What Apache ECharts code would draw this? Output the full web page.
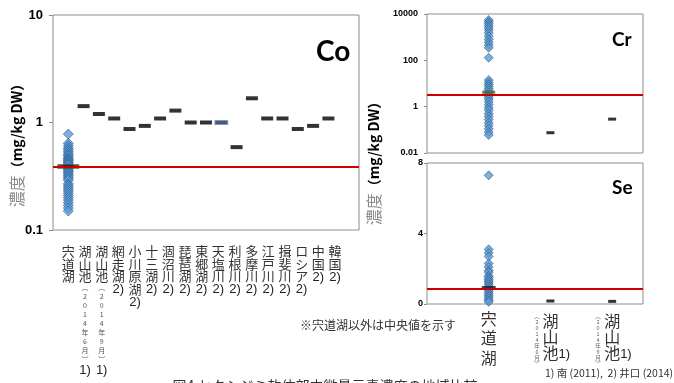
<!DOCTYPE html>
<html>
<head>
<meta charset="utf-8">
<style>
html, body { margin: 0; padding: 0; background: #fff; }
#chart { width: 674px; height: 383px; }
</style>
<script src="https://cdn.jsdelivr.net/npm/echarts@6.0.0/dist/echarts.min.js"></script>
</head>
<body>
<div id="chart"></div>
<script>
// ---- Co (left panel) ----
const coNames = ['宍道湖', '湖山池', '湖山池', '網走湖', '小川原湖', '十三湖', '涸沼川', '琵琶湖', '東郷湖',
  '天塩川', '利根川', '多摩川', '江戸川', '揖斐川', 'ロシア', '中国', '韓国'];
const coDates = ['', '2014年6月', '2014年9月', '', '', '', '', '', '', '', '', '', '', '', '', '', ''];
const coNotes = ['', '1)', '1)', '2)', '2)', '2)', '2)', '2)', '2)', '2)', '2)', '2)', '2)', '2)', '2)', '2)', '2)'];
const coTicks = ['0.1', '1', '10'];
// 宍道湖 individual samples
const coShinji = [0.78, 0.64, 0.61, 0.58, 0.56, 0.54, 0.52, 0.5, 0.49, 0.47, 0.46, 0.45, 0.44, 0.43, 0.42,
  0.41, 0.4, 0.38, 0.37, 0.36, 0.35, 0.34, 0.33, 0.32, 0.31, 0.3, 0.29, 0.27, 0.26, 0.25, 0.24, 0.23,
  0.22, 0.21, 0.2, 0.19, 0.18, 0.17, 0.16, 0.15];
const coShinjiMedian = 0.39;
// medians of the other sites
const coMedians = [1.42, 1.2, 1.09, 0.87, 0.93, 1.09, 1.29, 1.0, 1.0, 1.0, 0.59, 1.68, 1.09, 1.09, 0.87, 0.93, 1.09];
const coGuide = 0.39;

// ---- Cr / Se (right panels) ----
const rsNames = ['宍道湖', '湖山池', '湖山池'];
const rsDates = ['', '2014年6月', '2014年9月'];
const crTicks = ['0.01', '1', '100', '10000'];
const crShinji = [5500, 4600, 3800, 3100, 2500, 2000, 1500, 1100, 800, 600, 450, 350, 130,
  14, 11, 9, 7.5, 6, 5, 4, 3.2, 2.6, 2.1, 1.6, 1.2, 0.9, 0.7, 0.5, 0.38, 0.28, 0.2, 0.15, 0.11, 0.08, 0.06];
const crShinjiMedian = 4.2;
const crOthers = [0.075, 0.29];
const crGuide = 3.4;

const seTicks = ['0', '4', '8'];
const seShinji = [7.3, 3.1, 2.9, 2.7, 2.3, 2.1, 1.9, 1.8, 1.6, 1.5, 1.4, 1.3, 1.2, 1.1, 1.0, 0.9, 0.8,
  0.7, 0.6, 0.5, 0.4, 0.3, 0.2, 0.12];
const seShinjiMedian = 0.95;
const seOthers = [0.17, 0.15];
const seGuide = 0.89;

const JP = '"Noto Sans CJK JP", sans-serif';
const LAT = '"Liberation Sans", Arial, sans-serif';

const diamond = { color: '#5b9bd5', borderColor: '#1f4e79', borderWidth: 0.7 };
const border = '#8c8c8c';

function vert(str, tag) {
  return str.split('').map(c => tag ? `{${tag}|${c}}` : c).join('\n');
}

function guideSeries(xi, yi, v) {
  return {
    type: 'line', xAxisIndex: xi, yAxisIndex: yi, data: [], z: 2, silent: true,
    markLine: {
      symbol: 'none', silent: true, label: { show: false },
      lineStyle: { color: '#cc0000', width: 2, type: 'solid' },
      data: [{ yAxis: v }]
    }
  };
}

const chart = echarts.init(document.getElementById('chart'));

chart.setOption({
  animation: false,
  title: [
    { text: 'Co', left: 316, top: 38, padding: 0, textStyle: { fontFamily: 'Lato', fontWeight: 'bold', fontSize: 28, color: '#000' } },
    { text: 'Cr', left: 612, top: 30, padding: 0, textStyle: { fontFamily: 'Lato', fontWeight: 'bold', fontSize: 19, color: '#000' } },
    { text: 'Se', left: 612, top: 178, padding: 0, textStyle: { fontFamily: 'Lato', fontWeight: 'bold', fontSize: 19, color: '#000' } }
  ],
  grid: [
    { left: 53, top: 15, width: 306, height: 215, show: true, borderColor: border, borderWidth: 1 },
    { left: 427, top: 14, width: 216, height: 139, show: true, borderColor: border, borderWidth: 1 },
    { left: 427, top: 163, width: 216, height: 141, show: true, borderColor: border, borderWidth: 1 },
    { left: 60, top: 238, width: 283.3, height: 1 }
  ],
  xAxis: [
    { gridIndex: 0, type: 'value', min: 0, max: 20, show: false },
    { gridIndex: 1, type: 'value', min: 0, max: 3.5, show: false },
    {
      gridIndex: 2, type: 'value', min: 0, max: 3.5, interval: 1,
      axisLine: { show: false }, axisTick: { show: false }, splitLine: { show: false },
      axisLabel: {
        margin: 5, rotate: 0, showMinLabel: true, showMaxLabel: true,
        fontFamily: JP, fontSize: 16, lineHeight: 19.5, color: '#333',
        formatter: v => {
          const i = v - 1;
          if (!Number.isInteger(v) || i < 0 || i >= rsNames.length) return '';
          if (!rsDates[i]) return vert(rsNames[i]);
          const ch = rsNames[i].split('');
          return '{e| }\n{k|' + ch[0] + '}\n{k|' + ch[1] + '}\n{h|1)}{k|' + ch[2] + '}{m|1)}';
        },
        rich: {
          e: { fontSize: 1, lineHeight: 4 },
          k: { fontFamily: JP, fontSize: 16, lineHeight: 16, color: '#333' },
          h: { fontFamily: LAT, fontSize: 13, lineHeight: 12, color: 'rgba(0,0,0,0)', verticalAlign: 'bottom' },
          m: { fontFamily: LAT, fontSize: 13, lineHeight: 12, color: '#222', verticalAlign: 'bottom' }
        }
      }
    },
    {
      gridIndex: 3, type: 'category', data: coNames.map((n, i) => n + coDates[i]),
      axisLine: { show: false }, axisTick: { show: false },
      axisLabel: {
        interval: 0, rotate: 0, margin: 6,
        fontFamily: JP, fontSize: 13, lineHeight: 12.5, color: '#333',
        formatter: (v, i) => {
          let s = vert(coNames[i]);
          if (coDates[i]) s += '\n' + vert('︵' + coDates[i] + '︶', 's');
          if (coNotes[i]) s += '\n{n|' + coNotes[i] + '}';
          return s;
        },
        rich: {
          s: { fontFamily: JP, fontSize: 7, lineHeight: 9, color: '#555' },
          n: { fontFamily: LAT, fontSize: 13, lineHeight: 14, color: '#222' }
        }
      }
    }
  ],
  yAxis: [
    {
      gridIndex: 0, type: 'log', logBase: 10, min: 0.1, max: 10,
      axisLine: { show: false }, splitLine: { show: false }, minorTick: { show: false },
      axisTick: { show: true, length: 4, lineStyle: { color: border } },
      axisLabel: {
        margin: 10, fontFamily: LAT, fontWeight: 'bold', fontSize: 13, color: '#000',
        formatter: v => coTicks[Math.round(Math.log10(v)) + 1]
      }
    },
    {
      gridIndex: 1, type: 'log', logBase: 100, min: 0.01, max: 10000,
      axisLine: { show: false }, splitLine: { show: false },
      axisTick: { show: true, length: 3, lineStyle: { color: border } },
      axisLabel: {
        margin: 9, fontFamily: LAT, fontWeight: 'bold', fontSize: 9, color: '#000',
        formatter: v => crTicks[Math.round(Math.log10(v) / 2) + 1]
      }
    },
    {
      gridIndex: 2, type: 'value', min: 0, max: 8, interval: 4,
      axisLine: { show: false }, splitLine: { show: false },
      axisTick: { show: true, length: 3, lineStyle: { color: border } },
      axisLabel: {
        margin: 4, fontFamily: LAT, fontWeight: 'bold', fontSize: 9, color: '#000',
        formatter: v => seTicks[Math.round(v / 4)]
      }
    },
    { gridIndex: 3, type: 'value', show: false }
  ],
  series: [
    // Co
    guideSeries(0, 0, coGuide),
    {
      type: 'scatter', xAxisIndex: 0, yAxisIndex: 0, z: 3, symbol: 'diamond', symbolSize: 10,
      itemStyle: diamond, data: coShinji.map(v => [1, v])
    },
    {
      type: 'scatter', xAxisIndex: 0, yAxisIndex: 0, z: 4, symbol: 'rect', symbolSize: [20, 4],
      itemStyle: { color: '#1a1a1a', borderColor: '#4f6b2a', borderWidth: 1 },
      data: [[1, coShinjiMedian]]
    },
    {
      type: 'scatter', xAxisIndex: 0, yAxisIndex: 0, z: 4, symbol: 'rect', symbolSize: [12, 4],
      itemStyle: { color: '#000' },
      data: coMedians.map((v, i) => (i === 9
        ? { value: [i + 2, v], itemStyle: { color: '#1f2f4f', borderColor: '#4a78b8', borderWidth: 1 } }
        : [i + 2, v]))
    },
    // Cr
    guideSeries(1, 1, crGuide),
    {
      type: 'scatter', xAxisIndex: 1, yAxisIndex: 1, z: 3, symbol: 'diamond', symbolSize: 9,
      itemStyle: diamond, data: crShinji.map(v => [1, v])
    },
    {
      type: 'scatter', xAxisIndex: 1, yAxisIndex: 1, z: 4, symbol: 'rect', symbolSize: [13, 3],
      itemStyle: { color: '#3f6b2a' }, data: [[1, crShinjiMedian]]
    },
    {
      type: 'scatter', xAxisIndex: 1, yAxisIndex: 1, z: 4, symbol: 'rect', symbolSize: [8, 3],
      itemStyle: { color: '#000' }, data: crOthers.map((v, i) => [i + 2, v])
    },
    // Se
    guideSeries(2, 2, seGuide),
    {
      type: 'scatter', xAxisIndex: 2, yAxisIndex: 2, z: 3, symbol: 'diamond', symbolSize: 9,
      itemStyle: diamond, data: seShinji.map(v => [1, v])
    },
    {
      type: 'scatter', xAxisIndex: 2, yAxisIndex: 2, z: 4, symbol: 'rect', symbolSize: [14, 2.5],
      itemStyle: { color: '#1a1a1a' }, data: [[1, seShinjiMedian]]
    },
    {
      type: 'scatter', xAxisIndex: 2, yAxisIndex: 2, z: 4, symbol: 'rect', symbolSize: [8, 3],
      itemStyle: { color: '#000' }, data: seOthers.map((v, i) => [i + 2, v])
    }
  ],
  graphic: [
    {
      type: 'text', x: 17, y: 142, rotation: Math.PI / 2,
      style: {
        text: '{a|濃度}{b|（mg/kg DW）}', align: 'center', verticalAlign: 'middle',
        rich: {
          a: { fontFamily: JP, fontSize: 16, fill: '#8a8a8a' },
          b: { fontFamily: JP, fontSize: 14, fontWeight: 'bold', fill: '#000' }
        }
      }
    },
    {
      type: 'text', x: 374, y: 160, rotation: Math.PI / 2,
      style: {
        text: '{a|濃度}{b|（mg/kg DW）}', align: 'center', verticalAlign: 'middle',
        rich: {
          a: { fontFamily: JP, fontSize: 16, fill: '#8a8a8a' },
          b: { fontFamily: JP, fontSize: 14, fontWeight: 'bold', fill: '#000' }
        }
      }
    },
    {
      type: 'text', x: 537, y: 340,
      style: { text: vert('︵' + rsDates[1] + '︶'), fontFamily: JP, fontSize: 5.5, lineHeight: 6, fill: '#666', align: 'center', verticalAlign: 'middle' }
    },
    {
      type: 'text', x: 598, y: 340,
      style: { text: vert('︵' + rsDates[2] + '︶'), fontFamily: JP, fontSize: 5.5, lineHeight: 6, fill: '#666', align: 'center', verticalAlign: 'middle' }
    },
    {
      type: 'text', x: 300, y: 325,
      style: { text: '※宍道湖以外は中央値を示す', fontFamily: JP, fontSize: 12, fill: '#333', align: 'left', verticalAlign: 'middle' }
    },
    {
      type: 'text', x: 545, y: 373,
      style: { text: '1) 南 (2011),  2) 井口 (2014)', fontFamily: JP, fontSize: 10.5, fill: '#333', align: 'left', verticalAlign: 'middle' }
    },
    {
      type: 'text', x: 325, y: 386,
      style: { text: '図4 セタシジミ軟体部中微量元素濃度の地域比較', fontFamily: JP, fontSize: 14, fill: '#333', align: 'center', verticalAlign: 'middle' }
    }
  ]
});
</script>
</body>
</html>
